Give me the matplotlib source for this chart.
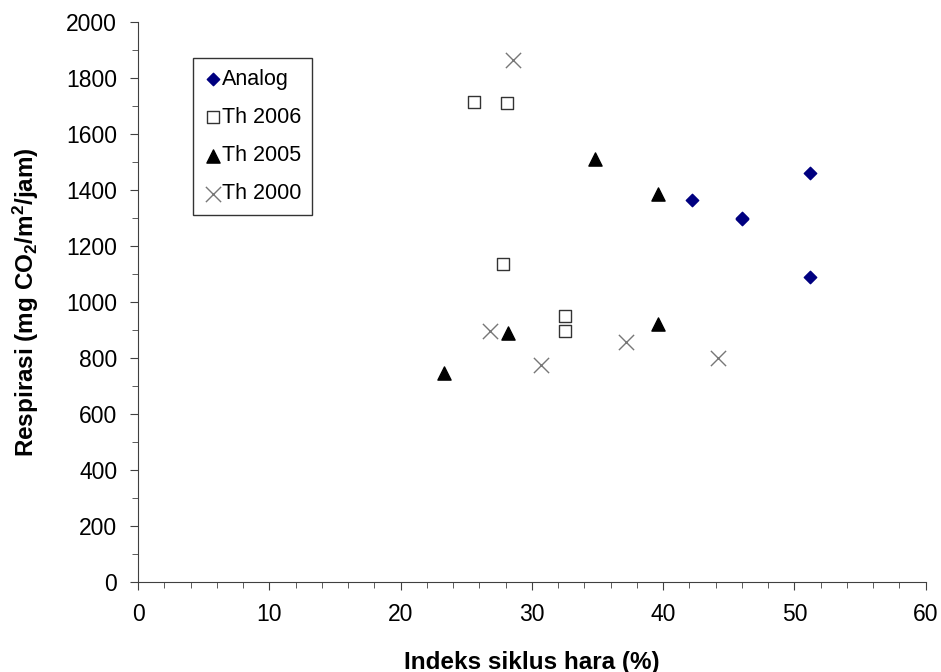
import matplotlib
matplotlib.use("Agg")
import matplotlib.pyplot as plt
from matplotlib.ticker import MultipleLocator

plt.rcParams['font.family'] = ['Liberation Sans', 'DejaVu Sans']
plt.rcParams['mathtext.default'] = 'regular'

analog_x = [42.2, 46.0, 46.0, 51.2, 51.2]
analog_y = [1365, 1302, 1295, 1460, 1090]
th2006_x = [25.6, 28.1, 27.8, 32.5, 32.5]
th2006_y = [1715, 1710, 1135, 950, 898]
th2005_x = [23.3, 28.2, 34.8, 39.6, 39.6]
th2005_y = [746, 889, 1510, 1387, 920]
th2000_x = [28.6, 26.8, 30.7, 37.2, 44.2]
th2000_y = [1864, 896, 775, 857, 800]

fig = plt.figure(figsize=(9.41, 6.72), dpi=100)
ax = fig.add_axes([0.1467, 0.134, 0.837, 0.833])

ax.scatter(analog_x, analog_y, marker='D', s=40, color='#000080', label='Analog', zorder=3)
ax.scatter(th2006_x, th2006_y, marker='s', s=64, facecolor='white', edgecolor='#333333', linewidth=1.0, label='Th 2006', zorder=3)
ax.scatter(th2005_x, th2005_y, marker='^', s=90, color='black', label='Th 2005', zorder=3)
ax.scatter(th2000_x, th2000_y, marker='x', s=120, color='#777777', linewidth=1.0, label='Th 2000', zorder=3)

ax.set_xlim(0, 60)
ax.set_ylim(0, 2000)
ax.xaxis.set_major_locator(MultipleLocator(10))
ax.xaxis.set_minor_locator(MultipleLocator(2))
ax.yaxis.set_major_locator(MultipleLocator(200))
ax.yaxis.set_minor_locator(MultipleLocator(100))
for s in ['top', 'right']:
    ax.spines[s].set_visible(False)
for s in ['left', 'bottom']:
    ax.spines[s].set_color('#404040')
ax.tick_params(which='both', direction='out', color='#404040', labelsize=16.5, labelcolor='black')
ax.tick_params(which='major', length=6)
ax.tick_params(which='minor', length=4.5)
ax.tick_params(axis='x', pad=9)
ax.tick_params(axis='y', pad=9)

ax.set_xlabel('Indeks siklus hara (%)', fontsize=17.5, fontweight='bold', labelpad=18)
ax.set_ylabel('Respirasi (mg CO$_2$/m$^2$/jam)', fontsize=17.5, fontweight='bold', labelpad=18)

leg = ax.legend(loc='upper left', bbox_to_anchor=(0.0698, 0.936), fontsize=15.5, frameon=True,
                fancybox=False, edgecolor='black', handletextpad=0.0, handlelength=0.85,
                borderpad=0.5, labelspacing=0.8, borderaxespad=0)
leg.get_frame().set_linewidth(1.0)

fig.savefig('out.png', dpi=100)
